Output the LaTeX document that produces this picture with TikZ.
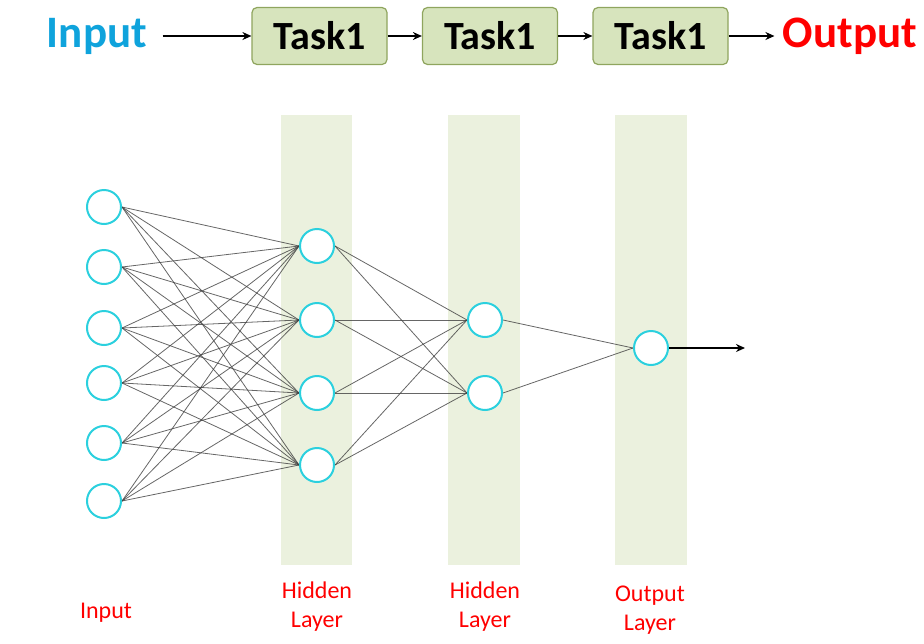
\documentclass[tikz,border=0pt]{standalone}
\usepackage{fontspec}
\setmainfont{Carlito}
\usetikzlibrary{arrows.meta}
\definecolor{bandgreen}{HTML}{EBF1DE}
\definecolor{boxfill}{HTML}{D7E4BD}
\definecolor{boxline}{HTML}{8FA55E}
\definecolor{neuron}{HTML}{2BD0DE}
\definecolor{inblue}{HTML}{0FA3DC}
\definecolor{outred}{HTML}{FF0000}
\pgfdeclarelayer{bands}
\pgfdeclarelayer{edges}
\pgfsetlayers{bands,edges,main}
\tikzset{
  neu/.style={circle, draw=neuron, line width=2pt, fill=white, minimum size=34pt, inner sep=0pt},
  taskbox/.style={rectangle, rounded corners=5pt, draw=boxline, line width=1.2pt, fill=boxfill, minimum width=135pt, minimum height=57pt, font=\fontsize{40}{44}\selectfont\bfseries},
  flow/.style={line width=2pt, -{Stealth[length=9pt,width=8pt]}},
  link/.style={draw=black!75, line width=0.8pt, opacity=0.8},
  band/.style={fill=bandgreen, draw=none},
  lab/.style={text=outred, font=\fontsize{24}{29}\selectfont, align=center}
}
\begin{document}
\begin{tikzpicture}[x=1pt,y=-1pt]
\useasboundingbox (0,0) rectangle (924,643);
% top row
\node[text=inblue, font=\fontsize{45}{50}\selectfont\bfseries] (tin) at (97,36) {Input};
\node[taskbox] (t1) at (319.5,36) {Task1};
\node[taskbox] (t2) at (490,36) {Task1};
\node[taskbox] (t3) at (660.5,36) {Task1};
\node[text=outred, font=\fontsize{45}{50}\selectfont\bfseries] (tout) at (850,36) {Output};
\draw[flow] ([xshift=12pt]tin.east) -- (t1.west);
\draw[flow] (t1) -- (t2);
\draw[flow] (t2) -- (t3);
\draw[flow] (t3.east) -- ([xshift=-5pt]tout.west);
% bands
\begin{pgfonlayer}{bands}
\fill[band] (281,115) rectangle (352,565);
\fill[band] (448,115) rectangle (520,565);
\fill[band] (615,115) rectangle (687,565);
\end{pgfonlayer}
% neurons
\foreach \i/\y in {1/207,2/267,3/328,4/383,5/443,6/501}
  \node[neu] (i\i) at (104,\y) {};
\foreach \i/\y in {1/246,2/320,3/393,4/465}
  \node[neu] (h\i) at (317,\y) {};
\foreach \i/\y in {1/320,2/393}
  \node[neu] (g\i) at (485,\y) {};
\node[neu] (o) at (651,348) {};
\coordinate (oend) at (745,348);
\begin{pgfonlayer}{edges}
\foreach \a in {1,...,6}
  \foreach \b in {1,...,4}
    \draw[link] (i\a.east) -- (h\b.west);
\foreach \a in {1,...,4}
  \foreach \b in {1,2}
    \draw[link] (h\a.east) -- (g\b.west);
\foreach \a in {1,2}
  \draw[link] (g\a.east) -- (o.west);
\end{pgfonlayer}
\draw[line width=2pt, -{Stealth[length=9pt,width=8pt]}] (o.east) -- (oend);
% labels
\node[lab] (l1) at (106,613) {Input};
\node[lab] (l2) at (317,607) {Hidden\\Layer};
\node[lab] (l3) at (485,607) {Hidden\\Layer};
\node[lab] (l4) at (650,610) {Output\\Layer};
\end{tikzpicture}
\end{document}
